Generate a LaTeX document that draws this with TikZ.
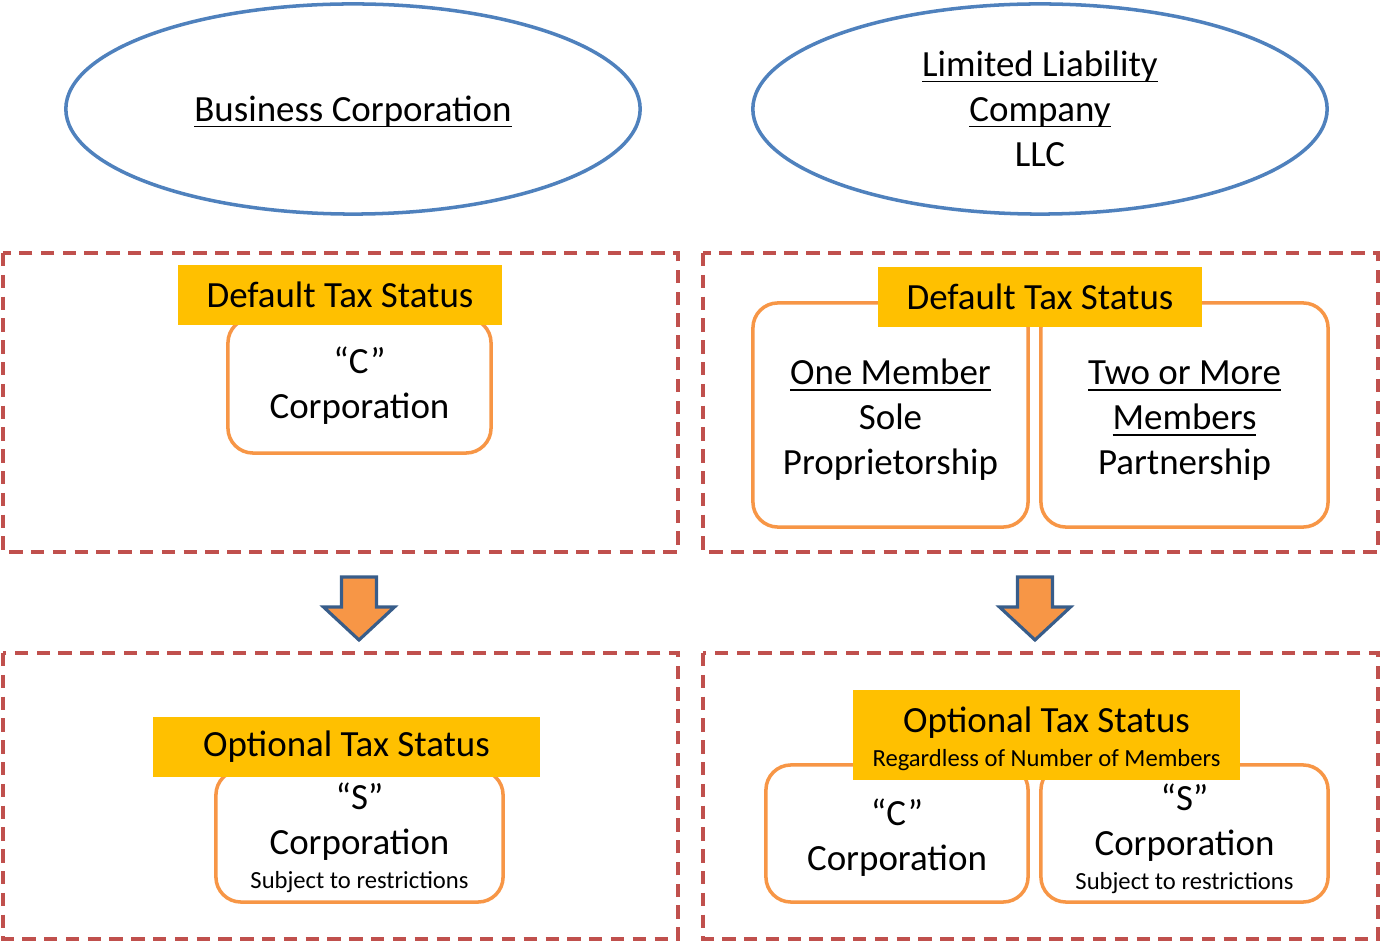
\documentclass[tikz,border=0pt]{standalone}
\usepackage{fontspec}
\setmainfont{Carlito}
\usetikzlibrary{shapes.geometric}
\definecolor{dashred}{HTML}{C0504D}
\definecolor{ellblue}{HTML}{4F81BD}
\definecolor{boxorange}{HTML}{F79646}
\definecolor{tagyellow}{HTML}{FFC000}
\definecolor{arrowblue}{HTML}{385D8A}
\newcommand{\labelfont}{\fontsize{10.5}{12.8}\selectfont}
\newcommand{\notefont}{\fontsize{7}{8}\selectfont}
\newcommand{\ulined}[1]{\underline{\smash{#1}}\vphantom{#1}}

\begin{document}
\begin{tikzpicture}[x=0.01cm,y=-0.01cm,
  region/.style={draw=dashred,line width=1.1pt,dash pattern=on 3.8pt off 2.4pt},
  entity/.style={ellipse,draw=ellblue,line width=1pt,minimum width=5.74cm,
    minimum height=2.1cm,align=center,font=\labelfont},
  statusbox/.style={rectangle,rounded corners=0.25cm,draw=boxorange,inner ysep=1pt,
    line width=1pt,fill=white,align=center,font=\labelfont},
  taglabel/.style={fill=tagyellow,minimum height=0.6cm,inner ysep=1pt,align=center,font=\labelfont},
  downarrow/.style={fill=boxorange,draw=arrowblue,line width=0.9pt}]
\useasboundingbox (0,0) rectangle (1381,943);

% entities
\node[entity] (corp) at (353,109) {\rule{0pt}{9.2pt}\ulined{Business Corporation}};
\node[entity] (llc) at (1040,109) {\ulined{Limited Liability}\\\ulined{Company}\\LLC};

% dashed regions
\draw[region] (3,253) rectangle (678,552);
\draw[region] (703,253) rectangle (1378,552);
\draw[region] (3,653) rectangle (678,939);
\draw[region] (703,653) rectangle (1378,939);

% default status
\node[statusbox,minimum width=2.63cm,minimum height=1.35cm] (cdef) at (359.5,385.5) {“C”\\Corporation};
\node[statusbox,minimum width=2.75cm,minimum height=2.24cm] (sole) at (890.5,415)
  {\rule{0pt}{10.2pt}\ulined{One Member}\\Sole\\Proprietorship};
\node[statusbox,minimum width=2.87cm,minimum height=2.24cm] (partner) at (1184.5,415)
  {\rule{0pt}{10.2pt}\ulined{Two or More}\\\ulined{Members}\\Partnership};
\node[taglabel,minimum width=3.24cm] (deflA) at (340,295) {Default Tax Status};
\node[taglabel,minimum width=3.24cm] (deflB) at (1040,297) {Default Tax Status};

% optional status
\node[statusbox,minimum width=2.87cm,minimum height=1.32cm] (soptA) at (359.5,836)
  {\rule{0pt}{8.5pt}“S”\\Corporation\\[-3pt]{\notefont Subject to restrictions}};
\node[statusbox,minimum width=2.62cm,minimum height=1.37cm] (coptB) at (897,833.5)
  {\rule{0pt}{9.8pt}“C”\\Corporation};
\node[statusbox,minimum width=2.87cm,minimum height=1.37cm] (soptB) at (1184.5,833.5)
  {\rule{0pt}{10.5pt}“S”\\Corporation\\[-3pt]{\notefont Subject to restrictions}};
\node[taglabel,minimum width=3.87cm] (optlA) at (346.5,747) {Optional Tax Status};
\node[taglabel,minimum width=3.87cm,minimum height=0.9cm] (optlB) at (1046.5,735)
  {\rule{0pt}{9.5pt}Optional Tax Status\\[-3.3pt]{\notefont Regardless of Number of Members}};

% arrows
\foreach \ax in {359,1035}
  \draw[downarrow] (\ax-17.5,577) -- (\ax+17.5,577) -- (\ax+17.5,607) -- (\ax+35.5,607)
    -- (\ax,640) -- (\ax-35.5,607) -- (\ax-17.5,607) -- cycle;
\end{tikzpicture}
\end{document}
